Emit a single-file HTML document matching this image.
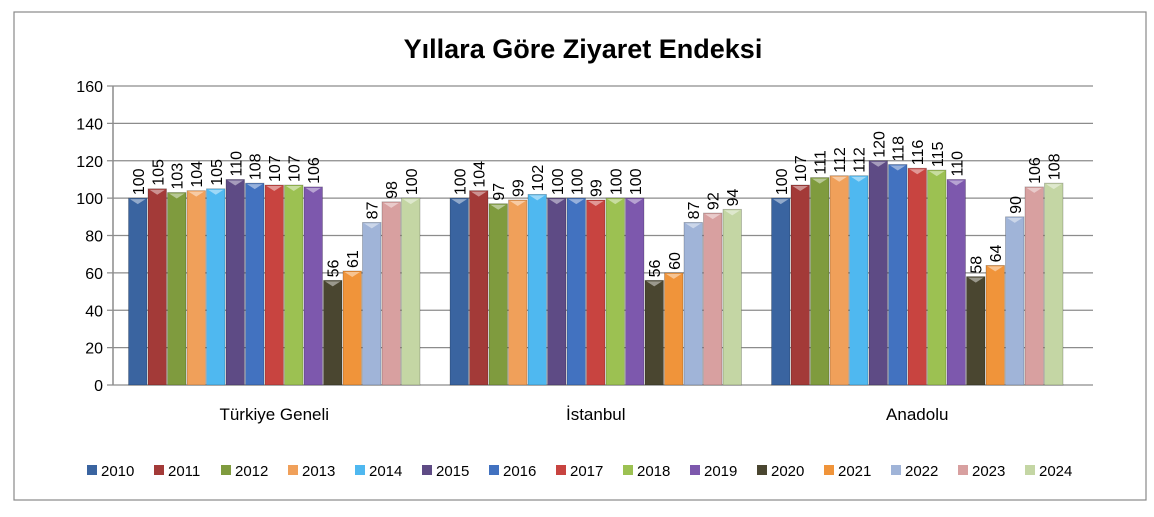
<!DOCTYPE html>
<html><head><meta charset="utf-8"><style>
body{margin:0;background:#fff;font-family:"Liberation Sans",sans-serif;}
#wrap{position:relative;width:1154px;height:512px;}
</style></head><body>
<div id="wrap">
<svg id="chart" width="1154" height="512" xmlns="http://www.w3.org/2000/svg">
<rect x="14" y="12" width="1132" height="488" fill="#fff" stroke="#888" stroke-width="1.2"/>
<text x="583" y="58" text-anchor="middle" font-size="27" font-weight="bold" fill="#000">Yıllara Göre Ziyaret Endeksi</text>
<g id="grid"></g><g id="bars"></g><g id="legend"></g>
</svg>
</div>
<script>
const categories=["Türkiye Geneli","İstanbul","Anadolu"];
const years=["2010","2011","2012","2013","2014","2015","2016","2017","2018","2019","2020","2021","2022","2023","2024"];
const turkiye=[100,105,103,104,105,110,108,107,107,106,56,61,87,98,100];
const istanbul=[100,104,97,99,102,100,100,99,100,100,56,60,87,92,94];
const anadolu=[100,107,111,112,112,120,118,116,115,110,58,64,90,106,108];
const ticks=[0,20,40,60,80,100,120,140,160];
const colors=["#3a64a0","#a33a38","#7f9b3e","#f0a05a","#4fb8f0","#5e4b85","#4272c0","#c84440","#9cc152","#7d58ad","#4a4630","#f0943a","#a0b4d8","#d8a0a0","#c4d6a4"];
const series=[turkiye,istanbul,anadolu];
const NS="http://www.w3.org/2000/svg";
const X0=113,X1=1093,Y0=385,YT=86,MAX=160;
const y=v=>Y0-(v/MAX)*(Y0-YT);
const gw=321.5, bw=19.5, gstart=128;
const gx=(g,i)=>gstart+g*gw+i*bw;
function mk(tag,attrs,parent){const e=document.createElementNS(NS,tag);for(const k in attrs)e.setAttribute(k,attrs[k]);parent.appendChild(e);return e;}
const grid=document.getElementById('grid');
ticks.forEach(t=>{
 const l=mk('line',{x1:X0-6,x2:X1,y1:y(t),y2:y(t),stroke:'#8c8c8c','stroke-width':1.3},grid);
 
 
 const tx=mk('text',{x:X0-10,y:y(t)+6,'text-anchor':'end','font-size':16,fill:'#000'},grid);
 tx.textContent=t;
 
 
});
const ax=mk('line',{x1:X0,x2:X0,y1:YT,y2:Y0,stroke:'#8c8c8c','stroke-width':1.5},grid);


const bars=document.getElementById('bars');
categories.forEach((c,g)=>{
 series[g].forEach((v,i)=>{
  const x=gx(g,i);
  const r=mk('rect',{x:x+0.5,y:y(v),width:bw-1,height:Y0-y(v),fill:colors[i],stroke:'rgba(0,0,0,0.25)','stroke-width':0.8},bars);
  
  
  const tri=mk('polygon',{points:`${x+2},${y(v)+1} ${x+bw-2},${y(v)+1} ${x+bw/2},${y(v)+6}`,fill:'rgba(255,255,255,0.45)'},bars);
  
  
  const lx=x+bw/2+6, ly=y(v)-3;
  const t=mk('text',{x:lx,y:ly,'font-size':16,fill:'#000',transform:`rotate(-90 ${lx} ${ly})`},bars);
  t.textContent=v;
  
  
 });
 const cl=mk('text',{x:gstart+g*gw+bw*years.length/2,y:420,'text-anchor':'middle','font-size':17,fill:'#000'},bars);
 cl.textContent=c;
 
 
});
const leg=document.getElementById('legend');
years.forEach((yr,i)=>{
 const lx=87+i*67;
 const s=mk('rect',{x:lx,y:465,width:10,height:10,fill:colors[i]},leg);
 
 
 const t=mk('text',{x:lx+14,y:476,'font-size':15,fill:'#000'},leg);
 t.textContent=yr;
 
 
});
</script>
</body></html>
